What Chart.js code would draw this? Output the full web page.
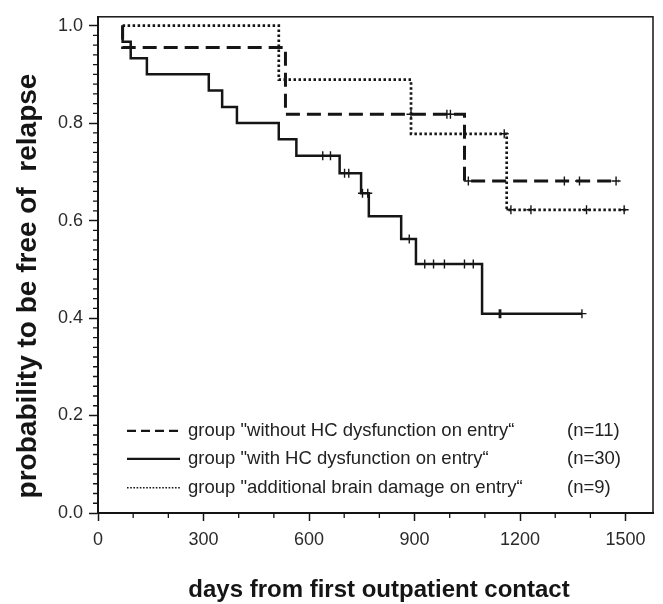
<!DOCTYPE html>
<html>
<head>
<meta charset="utf-8">
<script src="https://cdn.jsdelivr.net/npm/chart.js@4.4.1/dist/chart.umd.min.js"></script>
<style>
  html, body { margin: 0; background: #fff; }
  #wrap { width: 663px; height: 604px; }
</style>
</head>
<body>
<div id="wrap"><canvas id="chart"></canvas></div>
<script>
// Kaplan-Meier curves, values
const groupLabels = [
  'group "without HC dysfunction on entry“',
  'group "with HC dysfunction on entry“',
  'group "additional brain damage on entry“'
]
const groupN = ['(n=11)', '(n=30)', '(n=9)']

const withoutDays = [70, 70, 533, 1042, 1480]
const withoutProb = [1.0, 0.955, 0.818, 0.681, 0.681]
const withoutCensor = [890, 992, 1002, 1053, 1326, 1369, 1473]

const withDays = [70, 70, 93, 139, 315, 353, 395, 514, 564, 687, 748, 770, 862, 904, 1092, 1376]
const withProb = [1.0, 0.967, 0.933, 0.9, 0.867, 0.833, 0.8, 0.767, 0.733, 0.697, 0.656, 0.609, 0.562, 0.511, 0.409, 0.409]
const withCensor = [639, 661, 701, 713, 752, 767, 885, 929, 954, 985, 1042, 1067, 1141, 1145, 1376]

const brainDays = [70, 514, 890, 1162, 1500]
const brainProb = [1.0, 0.889, 0.778, 0.622, 0.622]
const brainCensor = [1155, 1174, 1231, 1389, 1496]

const xTicks = [0, 300, 600, 900, 1200, 1500]
const yTicks = [0, 0.2, 0.4, 0.6, 0.8, 1.0]
const xTitle = 'days from first outpatient contact'
const yTitle = 'probability to be free of  relapse'

const ink = '#151515'
const fontFamily = '"Liberation Sans", Arial, sans-serif'

const styles = [
  { borderDash: [14, 7], borderWidth: 3, legendDash: [9, 5], legendWidth: 2.2 },
  { borderDash: [], borderWidth: 2.5, legendDash: [], legendWidth: 2.2 },
  { borderDash: [2.5, 2.5], borderWidth: 2.7, legendDash: [1.6, 1.6], legendWidth: 1.6 },
]

function toPoints(days, prob) {
  return days.map((d, i) => ({ x: d, y: prob[i] }))
}

// value of the step curve at a censoring time
function censorPoints(times, days, prob) {
  return times.map(t => {
    let v = prob[0]
    for (let i = 0; i < days.length; i++) if (days[i] <= t) v = prob[i]
    return { x: t, y: v }
  })
}

const curves = [
  [withoutDays, withoutProb, withoutCensor],
  [withDays, withProb, withCensor],
  [brainDays, brainProb, brainCensor],
]

const datasets = []
curves.forEach(([d, p], i) => {
  datasets.push({
    type: 'line',
    label: groupLabels[i],
    data: toPoints(d, p),
    stepped: 'before',
    borderColor: ink,
    borderWidth: styles[i].borderWidth,
    borderDash: styles[i].borderDash,
    pointRadius: 0,
    fill: false,
  })
})
curves.forEach(([d, p, c], i) => {
  datasets.push({
    type: 'scatter',
    label: 'censored',
    data: censorPoints(c, d, p),
    pointStyle: 'cross',
    pointRadius: 4.5,
    pointBorderWidth: 1.4,
    borderColor: ink,
    backgroundColor: ink,
  })
})

const extras = {
  id: 'extras',
  afterDraw(chart) {
    const { ctx, chartArea: ca, scales } = chart
    ctx.save()
    ctx.strokeStyle = ink
    // frame
    ctx.lineWidth = 1.5
    ctx.strokeRect(ca.left, ca.top, ca.right - ca.left, ca.bottom - ca.top)
    // minor ticks
    ctx.lineWidth = 1.3
    ctx.beginPath()
    for (let v = 100; v <= 1500; v += 100) {
      if (v % 300 === 0) continue
      const x = scales.x.getPixelForValue(v)
      ctx.moveTo(x, ca.bottom)
      ctx.lineTo(x, ca.bottom + 5)
    }
    for (let k = 1; k < 50; k++) {
      if (k % 10 === 0) continue
      const y = scales.y.getPixelForValue(k / 50)
      ctx.moveTo(ca.left, y)
      ctx.lineTo(ca.left - 5, y)
    }
    ctx.stroke()

    // legend inside the plot
    const rows = [ca.top + 414, ca.top + 442, ca.top + 471]
    ctx.font = '18.5px ' + fontFamily
    ctx.fillStyle = '#222'
    ctx.textBaseline = 'middle'
    rows.forEach((y, i) => {
      ctx.beginPath()
      ctx.setLineDash(styles[i].legendDash)
      ctx.lineWidth = styles[i].legendWidth
      ctx.moveTo(ca.left + 29, y)
      ctx.lineTo(ca.left + 82, y)
      ctx.stroke()
      ctx.setLineDash([])
      ctx.fillText(groupLabels[i], ca.left + 90, y)
      ctx.fillText(groupN[i], ca.left + 469, y)
    })

    // axis titles
    ctx.fillStyle = ink
    ctx.textAlign = 'center'
    ctx.font = 'bold 24px ' + fontFamily
    ctx.fillText(xTitle, 379, 590)
    ctx.translate(28, 286)
    ctx.rotate(-Math.PI / 2)
    ctx.font = 'bold 28px ' + fontFamily
    ctx.fillText(yTitle, 0, 0)
    ctx.restore()
  }
}

const config = {
  type: 'line',
  data: { datasets },
  options: {
    responsive: true,
    maintainAspectRatio: false,
    animation: false,
    layout: { padding: { top: 11, right: 10, left: 0, bottom: 0 } },
    plugins: {
      legend: { display: false },
      tooltip: { enabled: false },
    },
    scales: {
      x: {
        type: 'linear',
        min: 0,
        max: 1578,
        afterBuildTicks: s => { s.ticks = xTicks.map(v => ({ value: v })) },
        afterFit: s => { s.height = 91 },
        grid: { drawOnChartArea: false, tickLength: 8, tickWidth: 1.5, tickColor: ink },
        border: { color: ink, width: 2 },
        ticks: {
          color: '#2a2a2a',
          font: { size: 18, family: fontFamily },
          padding: 8,
          maxRotation: 0,
          autoSkip: false,
          callback: v => String(v),
        },
      },
      y: {
        min: 0,
        max: 1.018,
        afterBuildTicks: s => { s.ticks = yTicks.map(v => ({ value: v })) },
        afterFit: s => { s.width = 98 },
        grid: { drawOnChartArea: false, tickLength: 9, tickWidth: 1.5, tickColor: ink },
        border: { color: ink, width: 2 },
        ticks: {
          color: '#2a2a2a',
          font: { size: 18, family: fontFamily },
          padding: 6,
          callback: v => v.toFixed(1),
        },
      },
    },
  },
  plugins: [extras],
}

new Chart(document.getElementById('chart'), config)
</script>
</body>
</html>
